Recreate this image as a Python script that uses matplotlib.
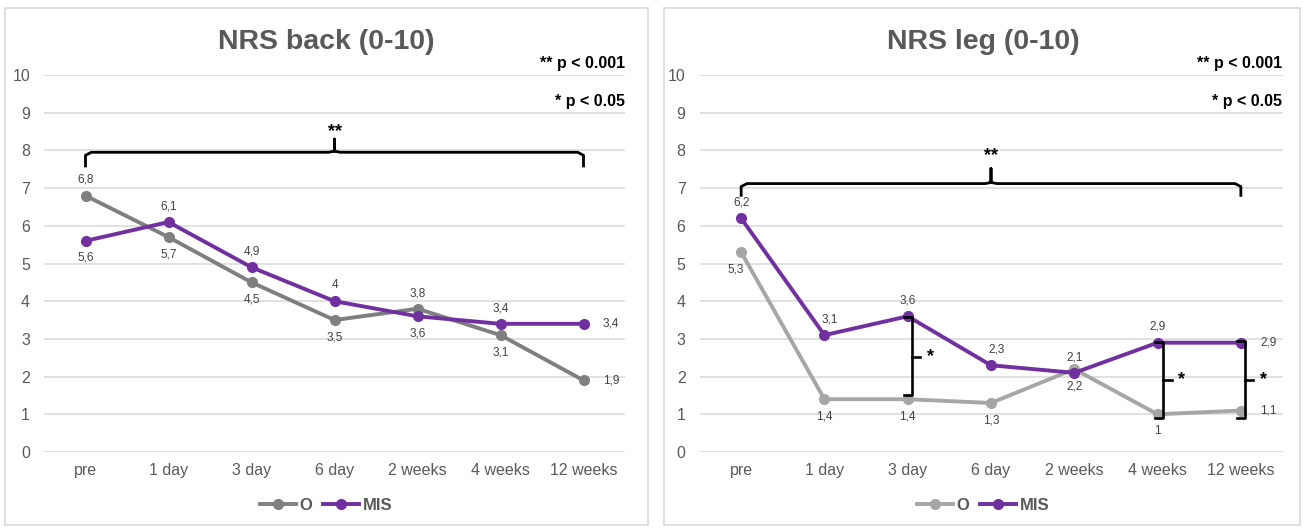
import matplotlib
matplotlib.use("Agg")
import matplotlib.pyplot as plt
from matplotlib.patches import Rectangle

plt.rcParams['font.family'] = ['Liberation Sans', 'DejaVu Sans']

categories = ["pre", "1 day", "3 day", "6 day", "2 weeks", "4 weeks", "12 weeks"]

back_O = [6.8, 5.7, 4.5, 3.5, 3.8, 3.1, 1.9]
back_MIS = [5.6, 6.1, 4.9, 4.0, 3.6, 3.4, 3.4]
back_O_pos = ['a', 'b', 'b', 'b', 'a', 'b', 'r']
back_MIS_pos = ['b', 'a', 'a', 'a', 'b', 'a', 'r']

leg_O = [5.3, 1.4, 1.4, 1.3, 2.2, 1.0, 1.1]
leg_MIS = [6.2, 3.1, 3.6, 2.3, 2.1, 2.9, 2.9]
leg_O_pos = ['bl', 'b', 'b', 'b', 'b', 'b', 'r']
leg_MIS_pos = ['a', 'ar', 'a', 'ar', 'a', 'a', 'r']

yticks = list(range(0, 11))
titles = ["NRS back (0-10)", "NRS leg (0-10)"]
sig_texts = ["** p < 0.001", "* p < 0.05"]
series_names = ["O", "MIS"]

PURPLE = "#7030a0"
GRAY_DARK = "#7f7f7f"
GRAY_LIGHT = "#a6a6a6"
TXT = "#595959"

W, H = 1303, 528
fig = plt.figure(figsize=(W / 100, H / 100), dpi=100)

# panel borders
for x0, x1 in [(5, 648), (664, 1300)]:
    fig.patches.append(Rectangle((x0 / W, 1 - 525 / H), (x1 - x0) / W, (525 - 8) / H,
                                 transform=fig.transFigure, fill=False,
                                 edgecolor="#d9d9d9", linewidth=1.2))

def fmt(v):
    return f"{v:g}".replace('.', ',')

def label(ax, xs, ys, poss):
    for x, y, p in zip(xs, ys, poss):
        dx, dy, ha, va = 0, 0, 'center', 'center'
        if p == 'a':
            dy, va = 7, 'bottom'
        elif p == 'b':
            dy, va = -8, 'top'
        elif p == 'r':
            dx, ha = 14, 'left'
        elif p == 'ar':
            dx, dy, va = 4, 7, 'bottom'
        elif p == 'bl':
            dx, dy, va = -4, -8, 'top'
        ax.annotate(fmt(y), (x, y), xytext=(dx, dy), textcoords='offset points',
                    ha=ha, va=va, fontsize=8.5, color="#404040")

def brace(ax, x0, x1, y, down=0.35, up=0.35):
    xm = (x0 + x1) / 2
    r = 0.07
    ax.plot([x0, x0, x0 + r, xm - r, xm, xm, xm, xm + r, x1 - r, x1, x1],
            [y - down, y - 0.08, y, y, y + 0.03, y + up, y + 0.03, y, y, y - 0.08, y - down],
            color="black", lw=2.0, solid_capstyle='butt', zorder=5)

def small_bracket(ax, x, ytop, ybot, ymid):
    t = 0.1
    ax.plot([x - t, x, x, x - t], [ytop, ytop, ybot, ybot], color="black", lw=1.9, zorder=5)
    ax.plot([x, x + t], [ymid, ymid], color="black", lw=1.9, zorder=5)
    ax.text(x + 0.22, ymid, "*", ha='center', va='center', fontsize=13,
            fontweight='bold', color='black')

panels = [
    dict(left=44, right=625, O=back_O, MIS=back_MIS, Opos=back_O_pos, Mpos=back_MIS_pos,
         ocol=GRAY_DARK, title=titles[0], title_x=326),
    dict(left=699.5, right=1282.5, O=leg_O, MIS=leg_MIS, Opos=leg_O_pos, Mpos=leg_MIS_pos,
         ocol=GRAY_LIGHT, title=titles[1], title_x=983),
]

y0px, y10px = 452, 75
axes = []
for p in panels:
    ax = fig.add_axes([p['left'] / W, 1 - y0px / H, (p['right'] - p['left']) / W, (y0px - y10px) / H])
    axes.append(ax)
    xs = list(range(len(categories)))
    l1, = ax.plot(xs, p['O'], color=p['ocol'], lw=2.8, marker='o', markersize=7, zorder=3,
                  label=series_names[0])
    l2, = ax.plot(xs, p['MIS'], color=PURPLE, lw=2.8, marker='o', markersize=7, zorder=4,
                  label=series_names[1])
    label(ax, xs, p['O'], p['Opos'])
    label(ax, xs, p['MIS'], p['Mpos'])
    ax.set_xlim(-0.5, len(categories) - 0.5)
    ax.set_ylim(0, 10)
    ax.set_yticks(yticks)
    ax.set_xticks(xs)
    ax.set_xticklabels(categories)
    ax.tick_params(axis='both', length=0, labelsize=11.5, colors=TXT)
    ax.tick_params(axis='x', pad=8)
    ax.tick_params(axis='y', pad=10)
    ax.grid(axis='y', color="#d9d9d9", lw=1.1)
    ax.set_axisbelow(True)
    for s in ax.spines.values():
        s.set_visible(False)
    ax.patch.set_alpha(0)
    # title
    fig.text(p['title_x'] / W, 1 - 42 / H, p['title'], ha='center', va='center',
             fontsize=20.5, fontweight='bold', color=TXT)
    # significance legend
    ax.text(6.5, 10.3, sig_texts[0], ha='right', va='center', fontsize=11.5,
            fontweight='bold', color='black', clip_on=False)
    ax.text(6.5, 9.3, sig_texts[1], ha='right', va='center', fontsize=11.5,
            fontweight='bold', color='black', clip_on=False)
    leg = fig.legend(handles=[l1, l2], loc='center', bbox_to_anchor=(p['title_x'] / W, 1 - 505 / H),
                     ncol=2, frameon=False, handlelength=2.2, columnspacing=0.6,
                     handletextpad=0.2, prop=dict(weight='bold', size=12))
    for t in leg.get_texts():
        t.set_color(TXT)

# brackets
ax1, ax2 = axes
brace(ax1, 0, 6, 7.95, down=0.4, up=0.35)
ax1.text(3, 8.5, "**", ha='center', va='center', fontsize=13, fontweight='bold')
brace(ax2, 0, 6, 7.12, down=0.35, up=0.4)
ax2.text(3, 7.85, "**", ha='center', va='center', fontsize=13, fontweight='bold')
small_bracket(ax2, 2.05, 3.58, 1.51, 2.52)
small_bracket(ax2, 5.07, 2.92, 0.9, 1.91)
small_bracket(ax2, 6.05, 2.95, 0.9, 1.91)

fig.savefig("out.png", dpi=100)
